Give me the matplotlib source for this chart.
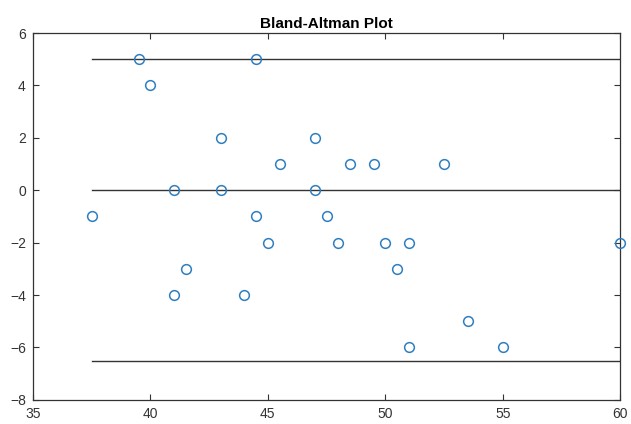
import matplotlib
matplotlib.use("Agg")
from matplotlib import pyplot as plt

plt.rcParams['font.family'] = ['Liberation Sans', 'DejaVu Sans']

# data
means = [39.5, 44.5, 40, 43, 47, 45.5, 48.5, 49.5, 52.5, 41, 43, 47,
         37.5, 44.5, 47.5, 45, 48, 50, 51, 60, 41.5, 50.5, 41, 44,
         53.5, 51, 55]
diffs = [5, 5, 4, 2, 2, 1, 1, 1, 1, 0, 0, 0,
         -1, -1, -1, -2, -2, -2, -2, -2, -3, -3, -4, -4,
         -5, -6, -6]
limits = [5, 0, -6.5]
line_start = 37.5
line_end = 60

fig = plt.figure(figsize=(6.31, 4.24), dpi=100)
ax = fig.add_axes([0.052, 0.057, 0.931, 0.865])

ax.plot(means, diffs, 'o', mfc='none', mec='#2F7FC0', ms=7, mew=1.1,
        zorder=3, clip_on=False)
for lim in limits:
    ax.plot([line_start, line_end], [lim, lim], color='#333333', lw=1.0)

ax.set_xlim(35, 60)
ax.set_ylim(-8, 6)
ax.set_xticks(range(35, 61, 5))
ax.set_yticks(range(-8, 7, 2))
ax.tick_params(direction='in', top=True, right=True, length=4,
               labelsize=10, colors='#333333', pad=5)
for s in ax.spines.values():
    s.set_color('#333333')
    s.set_linewidth(0.9)
ax.set_title('Bland-Altman Plot', fontsize=11, fontweight='bold', pad=4)

fig.savefig('out.png', dpi=100)
